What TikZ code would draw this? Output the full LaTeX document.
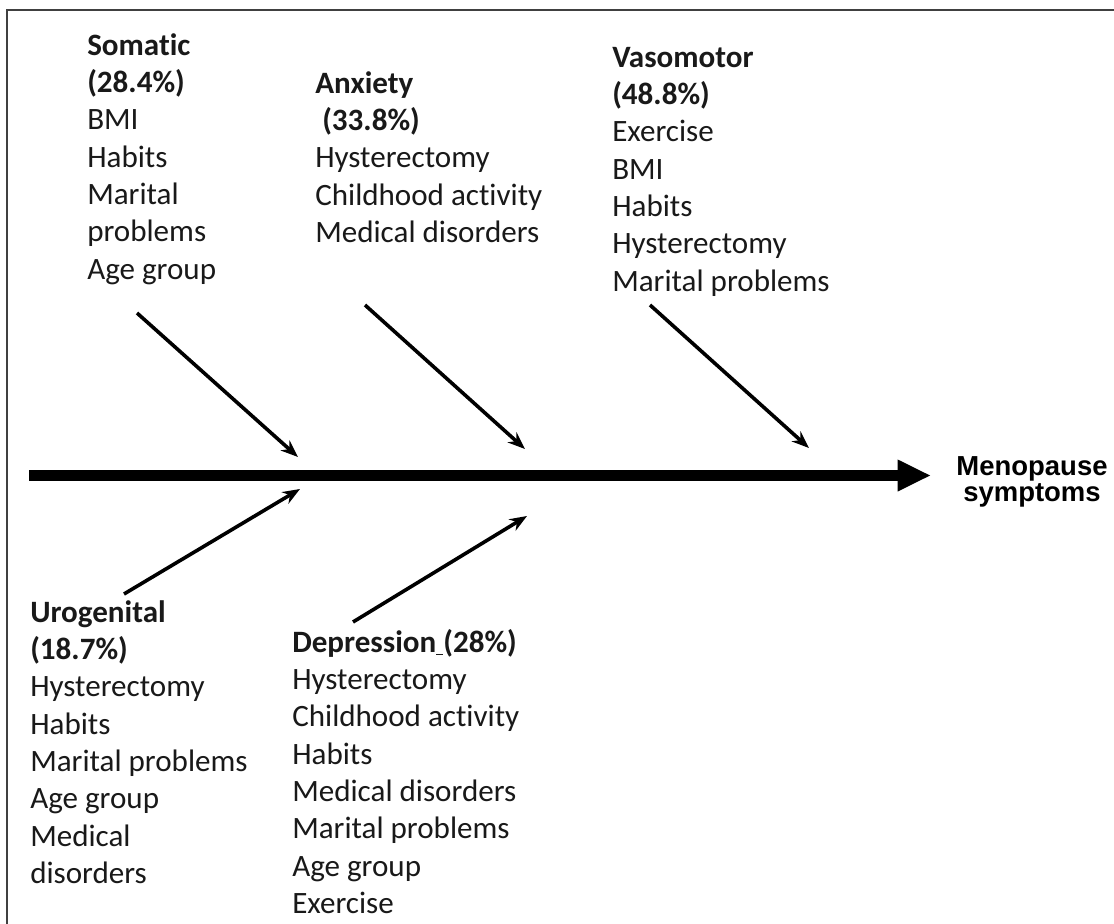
\documentclass[tikz,border=0pt]{standalone}
\usepackage{fontspec}
\setmainfont{Carlito}[Ligatures={NoCommon}]
\newfontfamily\arialfont{Liberation Sans}
\newcommand\menofont{\arialfont\bfseries\fontsize{20.6}{19.5}\selectfont\lineskiplimit=-20pt\relax}
\usetikzlibrary{arrows.meta}
\begin{document}
\begin{tikzpicture}[x=0.75pt,y=-0.75pt,
  lbl/.style={anchor=north west, inner sep=0pt, align=left, text=black!90,
    font=\fontsize{23.3}{28}\selectfont},
  spine/.style={line width=8.2pt, -{Triangle[length=25pt,width=22pt]}},
  bone/.style={line width=2.7pt, -{Stealth[length=13pt,width=10pt]}},
  frameline/.style={line width=1.3pt, draw=black!75}]
\useasboundingbox[fill=white] (0,0) rectangle (1114,924);
\draw[frameline] (7,924) -- (7,10) -- (1114,10);

% text blocks
\node[lbl] (som) at (87,28.3) {\rule{0pt}{20pt}\textbf{Somatic}\\\textbf{(28.4\%)}\\BMI\\Habits\\Marital\\problems\\Age group};
\node[lbl] (anx) at (315,66.3) {\rule{0pt}{20pt}\textbf{Anxiety}\\\textbf{\ (33.8\%)}\\Hysterectomy\\Childhood activity\\Medical disorders};
\node[lbl] (vas) at (612,40.3) {\rule{0pt}{20pt}\textbf{Vasomotor}\\\textbf{(48.8\%)}\\Exercise\\BMI\\Habits\\Hysterectomy\\Marital problems};
\node[lbl] (uro) at (30,595.3) {\rule{0pt}{20pt}\textbf{Urogenital}\\\textbf{(18.7\%)}\\Hysterectomy\\Habits\\Marital problems\\Age group\\Medical\\disorders};
\node[lbl] (dep) at (292,625.3) {\rule{0pt}{20pt}\textbf{Depression\underline{\ }(28\%)}\\Hysterectomy\\Childhood activity\\Habits\\Medical disorders\\Marital problems\\Age group\\Exercise};
\node[anchor=north, inner sep=0pt, align=center, font=\menofont]
  (goal) at (1032,451) {\rule{0pt}{18pt}Menopause\\symptoms};

% spine
\coordinate (tail) at (29,475.5);
\coordinate (head) at (931,475.5);
\draw[spine] (tail) -- (head);

% bones
\coordinate (s1) at (137,313); \coordinate (s2) at (298,457);
\coordinate (a1) at (365,305); \coordinate (a2) at (525,449);
\coordinate (v1) at (650,305); \coordinate (v2) at (809,448);
\coordinate (u1) at (124,594); \coordinate (u2) at (300,489);
\coordinate (d1) at (353,622); \coordinate (d2) at (527,516);
\draw[bone] (s1) -- (s2);
\draw[bone] (a1) -- (a2);
\draw[bone] (v1) -- (v2);
\draw[bone] (u1) -- (u2);
\draw[bone] (d1) -- (d2);
\end{tikzpicture}
\end{document}
